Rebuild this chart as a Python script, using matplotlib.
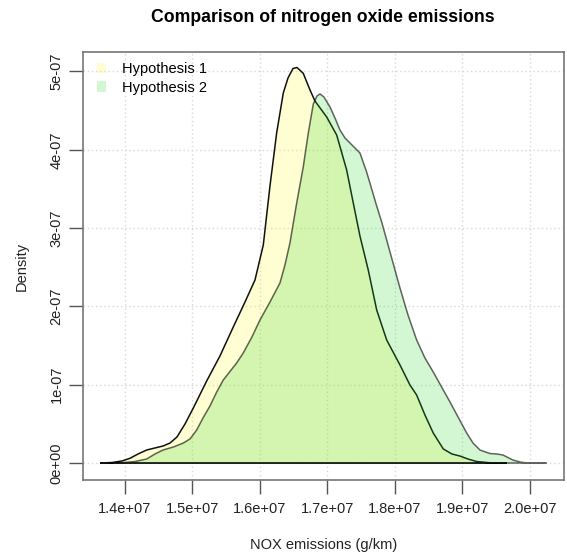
import matplotlib
matplotlib.use("Agg")
import matplotlib.pyplot as plt
from matplotlib.patches import Patch
import numpy as np

plt.rcParams["font.family"] = ["Liberation Sans", "DejaVu Sans"]

# kernel density estimates of NOX emissions
# x in units of 1e7 g/km, density in units of 1e-7
h1_x = [1.3630, 1.3807, 1.3956, 1.4074, 1.4193, 1.4321, 1.4444, 1.4563, 1.4667,
        1.4770, 1.4889, 1.5012, 1.5210, 1.5407, 1.5604, 1.5778, 1.5926, 1.6049,
        1.6148, 1.6247, 1.6345, 1.6415, 1.6489, 1.6548, 1.6641, 1.6741, 1.6815,
        1.6988, 1.7136, 1.7200, 1.7284, 1.7382, 1.7481, 1.7604, 1.7729, 1.7877,
        1.8074, 1.8222, 1.8321, 1.8444, 1.8567, 1.8716, 1.8844, 1.8963, 1.9081,
        1.9210, 1.9407, 1.9655]
h1_y = [0.0, 0.006, 0.026, 0.060, 0.115, 0.166, 0.192, 0.217, 0.255,
        0.332, 0.498, 0.702, 1.047, 1.367, 1.737, 2.056, 2.337, 2.784,
        3.538, 4.215, 4.725, 4.917, 5.038, 5.051, 4.977, 4.764, 4.623,
        4.419, 4.189, 3.997, 3.742, 3.321, 2.899, 2.465, 1.954, 1.571,
        1.252, 0.996, 0.868, 0.613, 0.383, 0.179, 0.115, 0.089, 0.051,
        0.019, 0.003, 0.0]

h2_x = [1.3748, 1.3970, 1.4148, 1.4321, 1.4444, 1.4563, 1.4716, 1.4864, 1.4963,
        1.5062, 1.5156, 1.5259, 1.5359, 1.5456, 1.5654, 1.5752, 1.5881, 1.6000,
        1.6148, 1.6296, 1.6370, 1.6444, 1.6544, 1.6641, 1.6716, 1.6790, 1.6844,
        1.6889, 1.6948, 1.7037, 1.7111, 1.7185, 1.7259, 1.7333, 1.7407, 1.7481,
        1.7580, 1.7659, 1.7729, 1.7803, 1.7877, 1.8000, 1.8074, 1.8193, 1.8321,
        1.8444, 1.8567, 1.8815, 1.9062, 1.9156, 1.9259, 1.9407, 1.9511, 1.9600,
        1.9748, 1.9852, 1.9951, 2.0244]
h2_y = [0.0, 0.006, 0.019, 0.051, 0.115, 0.166, 0.204, 0.255, 0.307,
        0.421, 0.575, 0.728, 0.907, 1.060, 1.277, 1.405, 1.610, 1.827,
        2.056, 2.299, 2.529, 2.810, 3.321, 3.781, 4.215, 4.585, 4.687,
        4.713, 4.674, 4.547, 4.406, 4.253, 4.151, 4.087, 4.023, 3.959,
        3.716, 3.487, 3.282, 3.078, 2.848, 2.465, 2.235, 1.890, 1.571,
        1.341, 1.162, 0.779, 0.383, 0.255, 0.166, 0.121, 0.115, 0.102,
        0.038, 0.013, 0.0, 0.0]

x_ticks = [1.4e7, 1.5e7, 1.6e7, 1.7e7, 1.8e7, 1.9e7, 2.0e7]
x_labels = ["1.4e+07", "1.5e+07", "1.6e+07", "1.7e+07", "1.8e+07", "1.9e+07", "2.0e+07"]
y_ticks = [0, 1e-7, 2e-7, 3e-7, 4e-7, 5e-7]
y_labels = ["0e+00", "1e-07", "2e-07", "3e-07", "4e-07", "5e-07"]

fill1 = (1.0, 0.98, 0.2, 0.22)
fill2 = (0.15, 0.85, 0.15, 0.2)

fig = plt.figure(figsize=(5.67, 5.56), dpi=100)
ax = fig.add_axes([83 / 567, 1 - 480 / 556, 481 / 567, 428 / 556])

ax.set_xlim(1.3378e7, 2.0504e7)
ax.set_ylim(-0.217e-7, 5.249e-7)

# dotted grid at the tick positions, under the densities
for xt in x_ticks:
    ax.axvline(xt, color="#d8d8d8", lw=1, ls=(0, (1, 2)), zorder=0)
for yt in y_ticks:
    ax.axhline(yt, color="#d8d8d8", lw=1, ls=(0, (1, 2)), zorder=0)

ax.fill(np.array(h1_x) * 1e7, np.array(h1_y) * 1e-7,
        facecolor=fill1, edgecolor="#111111", lw=1.1, zorder=2)
ax.fill(np.array(h2_x) * 1e7, np.array(h2_y) * 1e-7,
        facecolor=fill2, edgecolor=(0, 0, 0, 0.6), lw=1.1, zorder=3)

ax.set_xticks(x_ticks)
ax.set_xticklabels(x_labels)
ax.set_yticks(y_ticks)
ax.set_yticklabels(y_labels, rotation=90, va="center")
ax.tick_params(axis="both", length=10, width=1, color="#555555",
               labelsize=10.5, labelcolor="#222222")
ax.tick_params(axis="x", pad=6)
ax.tick_params(axis="y", pad=4)
for sp in ax.spines.values():
    sp.set_color("#777777")
    sp.set_linewidth(1.2)

ax.set_xlabel("NOX emissions (g/km)", fontsize=10.5, color="#222222", labelpad=16)
ax.set_ylabel("Density", fontsize=10.5, color="#222222", labelpad=15)
fig.text(323 / 567, 1 - 17 / 556, "Comparison of nitrogen oxide emissions",
         ha="center", va="center", fontsize=12.7, fontweight="bold")

handles = [Patch(facecolor=fill1, edgecolor="none", label="Hypothesis 1"),
           Patch(facecolor=fill2, edgecolor="none", label="Hypothesis 2")]
ax.legend(handles=handles, loc="upper left", frameon=False, fontsize=10.5,
          handlelength=0.6, handleheight=0.7, handletextpad=1.1,
          labelspacing=0.3, borderaxespad=0.3, bbox_to_anchor=(0.008, 1.0))

fig.savefig("out.png", dpi=100)
